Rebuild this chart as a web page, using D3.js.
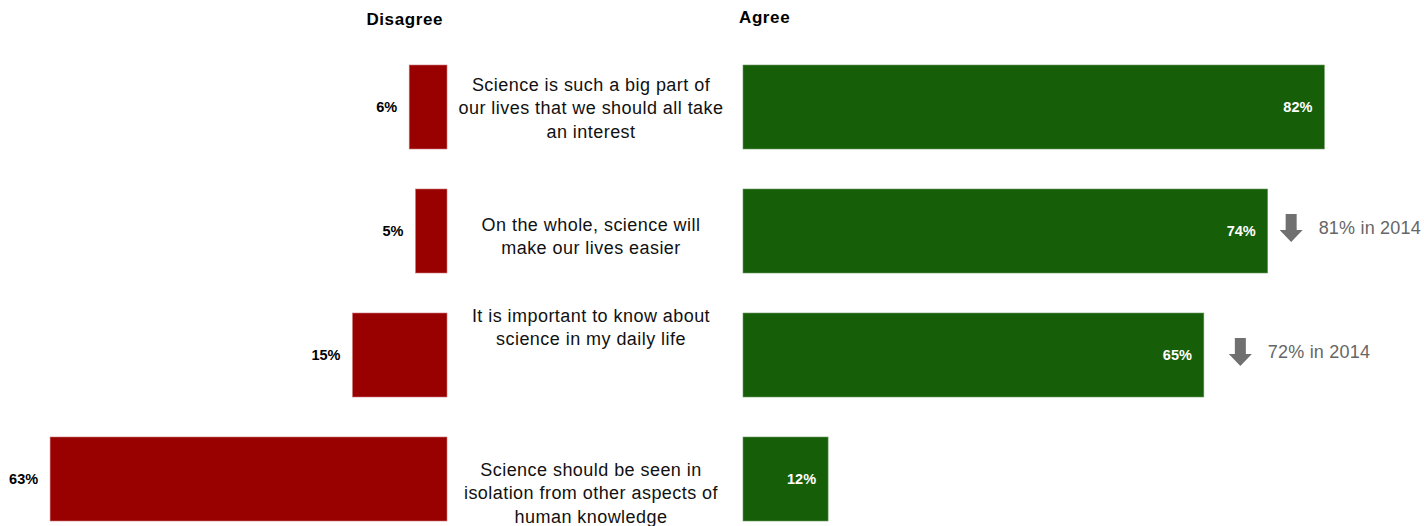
<!DOCTYPE html>
<html><head><meta charset="utf-8">
<script src="https://cdn.jsdelivr.net/npm/d3@7"></script>
<style>body{margin:0;background:#fff;} text{font-family:"Liberation Sans",Arial,sans-serif;}</style>
</head><body>
<svg id="c" width="1424" height="526"></svg>
<script>
const statements = [
  "Science is such a big part of|our lives that we should all take|an interest",
  "On the whole, science will|make our lives easier",
  "It is important to know about|science in my daily life",
  "Science should be seen in|isolation from other aspects of|human knowledge"
];
const disagree = [6, 5, 15, 63];
const agree = [82, 74, 65, 12];
const agree2014 = [null, 81, 72, null];

const svg = d3.select("#c");
const ids = statements.map((d,i)=>i);
const y = d3.scaleBand().domain(ids).range([45, 541]).paddingInner(0.3226).paddingOuter(0.1613);
const xD = d3.scaleLinear().domain([0,100]).range([447, 447-630]);
const xA = d3.scaleLinear().domain([0,100]).range([743, 743+709]);
const red = "#990000", green = "#165E08";
const labelX = 591;

svg.append("text").attr("x",443).attr("y",25).attr("text-anchor","end")
  .attr("font-weight","bold").attr("font-size",17).attr("letter-spacing",0.6).text("Disagree");
svg.append("text").attr("x",739).attr("y",23).attr("text-anchor","start")
  .attr("font-weight","bold").attr("font-size",17).attr("letter-spacing",0.6).text("Agree");

// disagree bars
svg.selectAll("rect.d").data(disagree).join("rect").attr("class","d")
  .attr("x",d=>xD(d)).attr("width",d=>xD(0)-xD(d))
  .attr("y",(d,i)=>y(i)).attr("height",y.bandwidth())
  .attr("fill",red).attr("stroke","#c77").attr("stroke-width",0.6);
svg.selectAll("text.dl").data(disagree).join("text").attr("class","dl")
  .attr("x",d=>xD(d)-12).attr("y",(d,i)=>y(i)+y.bandwidth()/2)
  .attr("dy","0.35em").attr("text-anchor","end").attr("font-weight","bold")
  .attr("font-size",14.5).attr("fill","#000").text(d=>d+"%");

// agree bars
svg.selectAll("rect.a").data(agree).join("rect").attr("class","a")
  .attr("x",xA(0)).attr("width",d=>xA(d)-xA(0))
  .attr("y",(d,i)=>y(i)).attr("height",y.bandwidth())
  .attr("fill",green).attr("stroke","#6a9a60").attr("stroke-width",0.6);
svg.selectAll("text.al").data(agree).join("text").attr("class","al")
  .attr("x",d=>xA(d)-12).attr("y",(d,i)=>y(i)+y.bandwidth()/2)
  .attr("dy","0.35em").attr("text-anchor","end").attr("font-weight","bold")
  .attr("font-size",14.5).attr("fill","#fff").text(d=>d+"%");

// statement labels
const labelShift = [1, 5, -28, 14];
const lh = 23.5;
statements.forEach((s,i)=>{
  const lines = s.split("|");
  const cy = y(i)+y.bandwidth()/2 + labelShift[i];
  const t = svg.append("text").attr("x",labelX).attr("text-anchor","middle")
    .attr("font-size",18).attr("letter-spacing",0.45).attr("fill","#111");
  lines.forEach((l,j)=>{
    t.append("tspan").attr("x",labelX)
      .attr("y", cy + (j-(lines.length-1)/2)*lh).attr("dy","0.35em").text(l);
  });
});

// 2014 annotations
const arrowGap = [0, 12, 25, 0];
agree2014.forEach((v,i)=>{
  if(v==null) return;
  const ax = xA(agree[i]) + arrowGap[i];
  const cy = y(i)+y.bandwidth()/2;
  const top = cy-17, bot = cy+11;
  const path = `M${ax+6},${top} L${ax+17},${top} L${ax+17},${bot-12} L${ax+23},${bot-12} L${ax+11.5},${bot} L${ax},${bot-12} L${ax+6},${bot-12} Z`;
  svg.append("path").attr("d",path).attr("fill","#707070");
  svg.append("text").attr("x",ax+39).attr("y",cy-3).attr("dy","0.35em")
    .attr("font-size",18).attr("letter-spacing",0.2).attr("fill","#666").text(v+"% in 2014");
});
</script>
</body></html>
